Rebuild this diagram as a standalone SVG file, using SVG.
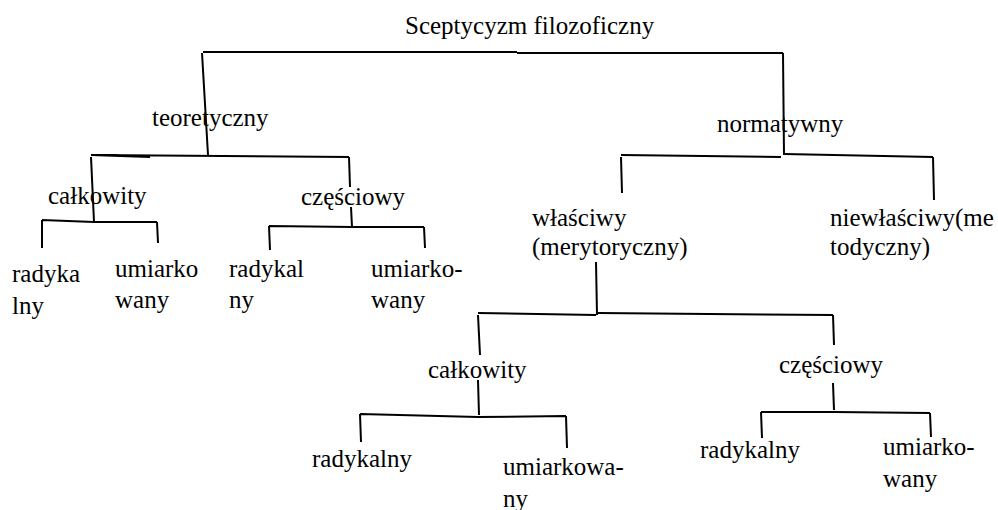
<svg xmlns="http://www.w3.org/2000/svg" width="998" height="510" viewBox="0 0 998 510">
<style>
text{font-family:"Liberation Serif","Times New Roman",serif;font-size:25px;fill:#000}
.c path{fill:none;stroke:#000;stroke-width:2;stroke-linecap:butt;stroke-linejoin:miter}
</style>
<rect width="998" height="510" fill="#fff"/>
<g id="connectors" class="c">
<path d="M203,52 L517,52 M517,53 L783,53 M202,53 L208,155 M783,53 L784,155"/>
<path d="M91,155 L150,157 M91,155 L349,157 M349,157 L350,187 M351,207 L352,227 M91,157 L94,222"/>
<path d="M42,220 L94,222 L157,222 M42,220 L42,248 M157,222 L158,243"/>
<path d="M269,226 L352,227 L424,227 M269,226 L270,250 M424,227 L425,248"/>
<path d="M621,155 L781,157 M784,154 L933,157 M621,157 L622,193 M933,157 L934,200"/>
<path d="M596,262 L597,315 M478,313 L596,315 M598,313 L833,315 M478,315 L480,355 M833,315 L834,345"/>
<path d="M478,380 L479,415 M360,414 L478,417 L566,416 M360,414 L361,442 M566,416 L567,448"/>
<path d="M833,383 L834,410 M761,412 L834,412 L930,413 M761,412 L762,438 M930,413 L931,437"/>
</g>
<g id="root"><text x="405" y="34">Sceptycyzm filozoficzny</text></g>
<g id="teoretyczny"><text x="152" y="126">teoretyczny</text></g>
<g id="normatywny"><text x="717" y="132">normatywny</text></g>
<g id="t-calkowity"><text x="48" y="204">całkowity</text></g>
<g id="t-czesciowy"><text x="301" y="205">częściowy</text></g>
<g id="tc-radykalny"><text x="12" y="282">radyka</text><text x="12" y="314">lny</text></g>
<g id="tc-umiarkowany"><text x="115" y="277">umiarko</text><text x="115" y="308">wany</text></g>
<g id="tp-radykalny"><text x="229" y="277">radykal</text><text x="229" y="308">ny</text></g>
<g id="tp-umiarkowany"><text x="371" y="277">umiarko-</text><text x="371" y="308">wany</text></g>
<g id="wlasciwy"><text x="532" y="226">właściwy</text><text x="532" y="255">(merytoryczny)</text></g>
<g id="niewlasciwy"><text x="830" y="226">niewłaściwy(me</text><text x="830" y="255">todyczny)</text></g>
<g id="w-calkowity"><text x="428" y="378">całkowity</text></g>
<g id="w-czesciowy"><text x="779" y="373">częściowy</text></g>
<g id="wc-radykalny"><text x="312" y="467">radykalny</text></g>
<g id="wc-umiarkowany"><text x="503" y="475">umiarkowa-</text><text x="503" y="507">ny</text></g>
<g id="wp-radykalny"><text x="700" y="458">radykalny</text></g>
<g id="wp-umiarkowany"><text x="883" y="455">umiarko-</text><text x="883" y="487">wany</text></g>
</svg>
